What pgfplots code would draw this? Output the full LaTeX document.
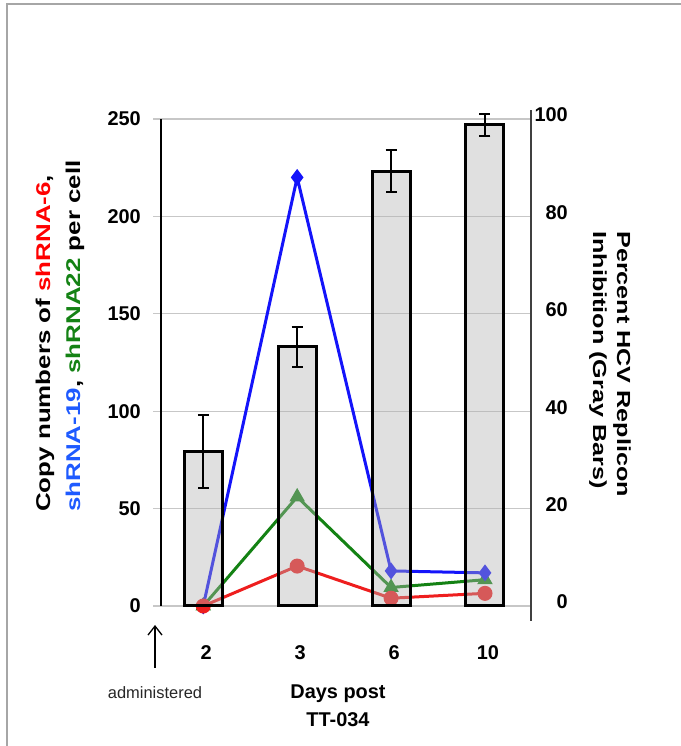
\documentclass[border=0pt]{standalone}
\usepackage{pgfplots}
\pgfplotsset{compat=1.18}
\usetikzlibrary{arrows.meta}
\usepackage{fontspec}
\setmainfont{Liberation Sans}
\definecolor{cred}{RGB}{238,30,30}
\definecolor{cblue}{RGB}{20,20,250}
\definecolor{cgreen}{RGB}{20,130,20}
\definecolor{lblred}{RGB}{255,0,0}
\definecolor{lblblue}{RGB}{30,90,255}
\definecolor{lblgreen}{RGB}{20,130,20}
\begin{document}
\begin{tikzpicture}
\path[use as bounding box] (0,0) rectangle (681bp,746bp);
\draw[line width=2bp, color=black!35] (7bp,0) -- (7bp,742bp) -- (681bp,742bp);

% left axis: copy numbers (lines)
\begin{axis}[
  at={(161bp,140bp)}, anchor=south west, scale only axis,
  width=370bp, height=487bp,
  xmin=-0.45, xmax=3.49, ymin=0, ymax=250,
  clip=false,
  /pgf/number format/assume math mode=true,
  axis y line*=left, axis x line*=bottom,
  x axis line style={draw=none},
  y axis line style={line width=1.2bp, black, -},
  ytick={0,50,100,150,200,250},
  ymajorgrids, grid style={black!22, line width=1.2bp},
  tick align=outside, major tick length=8bp,
  y tick style={draw=black!22, line width=1.2bp},
  xtick={0,1,2,3}, xticklabels={2,3,6,10},
  x tick style={draw=none},
  ticklabel style={font=\fontsize{20}{23}\selectfont\bfseries},
  yticklabel style={anchor=east, inner sep=0pt, xshift=-12bp},
  xticklabel style={anchor=north, inner sep=0pt, yshift=-31bp, xshift=3bp},
]
\addplot[cgreen, line width=3bp, mark=triangle*, mark size=6bp, mark options={solid}] coordinates {(0,0) (1,56) (2,9.5) (3,13.5)};
\addplot[cblue, line width=3bp, mark=diamond*, mark size=6bp, mark options={solid}] coordinates {(0,0) (1,220) (2,18) (3,17)};
\addplot[cred, line width=3bp, mark=*, mark size=6bp, mark options={solid}] coordinates {(0,0) (1,20.5) (2,4) (3,6.5)};
\end{axis}

% right axis: percent inhibition (bars)
\begin{axis}[
  at={(161bp,140bp)}, anchor=south west, scale only axis,
  width=370bp, height=487bp,
  xmin=-0.45, xmax=3.49, ymin=0, ymax=100,
  clip=false,
  /pgf/number format/assume math mode=true,
  axis y line*=right, axis x line=none,
  y axis line style={line width=1.2bp, black!75, -, shorten <=-15bp, shorten >=-9bp},
  ytick={0,20,40,60,80,100},
  major tick length=0pt,
  ticklabel style={font=\fontsize{20}{23}\selectfont\bfseries},
  yticklabel style={anchor=east, inner sep=0pt, xshift=37bp, yshift=4bp},
]
\addplot[ybar, bar width=38bp, draw=black, line width=3bp, fill=black!30, fill opacity=0.4,
  error bars/.cd, y dir=both, y explicit,
  error bar style={line width=2.2bp, black},
  error mark options={rotate=90, mark size=5.5bp, line width=2.2bp, black}]
  coordinates {(0,31.8) +- (0,7.5) (1,53.2) +- (0,4.1) (2,89.3) +- (0,4.3) (3,98.8) +- (0,2.3)};
\end{axis}

\node[rotate=90, xscale=1.3, anchor=west, inner sep=0pt, align=left, font=\fontsize{20}{30}\selectfont\bfseries] at (60bp,234bp)
  {Copy numbers of \textcolor{lblred}{shRNA-6},\\\textcolor{lblblue}{shRNA-19}, \textcolor{lblgreen}{shRNA22} per cell};
\node[rotate=-90, xscale=1.33, anchor=west, inner sep=0pt, align=left, font=\fontsize{19}{24}\selectfont\bfseries] at (610bp,515bp)
  {Percent HCV Replicon\\Inhibition (Gray Bars)};
\node[align=center, font=\fontsize{20}{28}\selectfont\bfseries] at (338bp,40bp)
  {Days post\\TT-034};
\draw[-{Straight Barb[length=9bp, width=14bp, line width=1.3bp]}, line width=1.3bp] (155bp,78bp) -- (155bp,121bp);
\node[font=\fontsize{16.5}{19}\selectfont, text=black!85] at (155bp,53bp) {administered};
\end{tikzpicture}
\end{document}
